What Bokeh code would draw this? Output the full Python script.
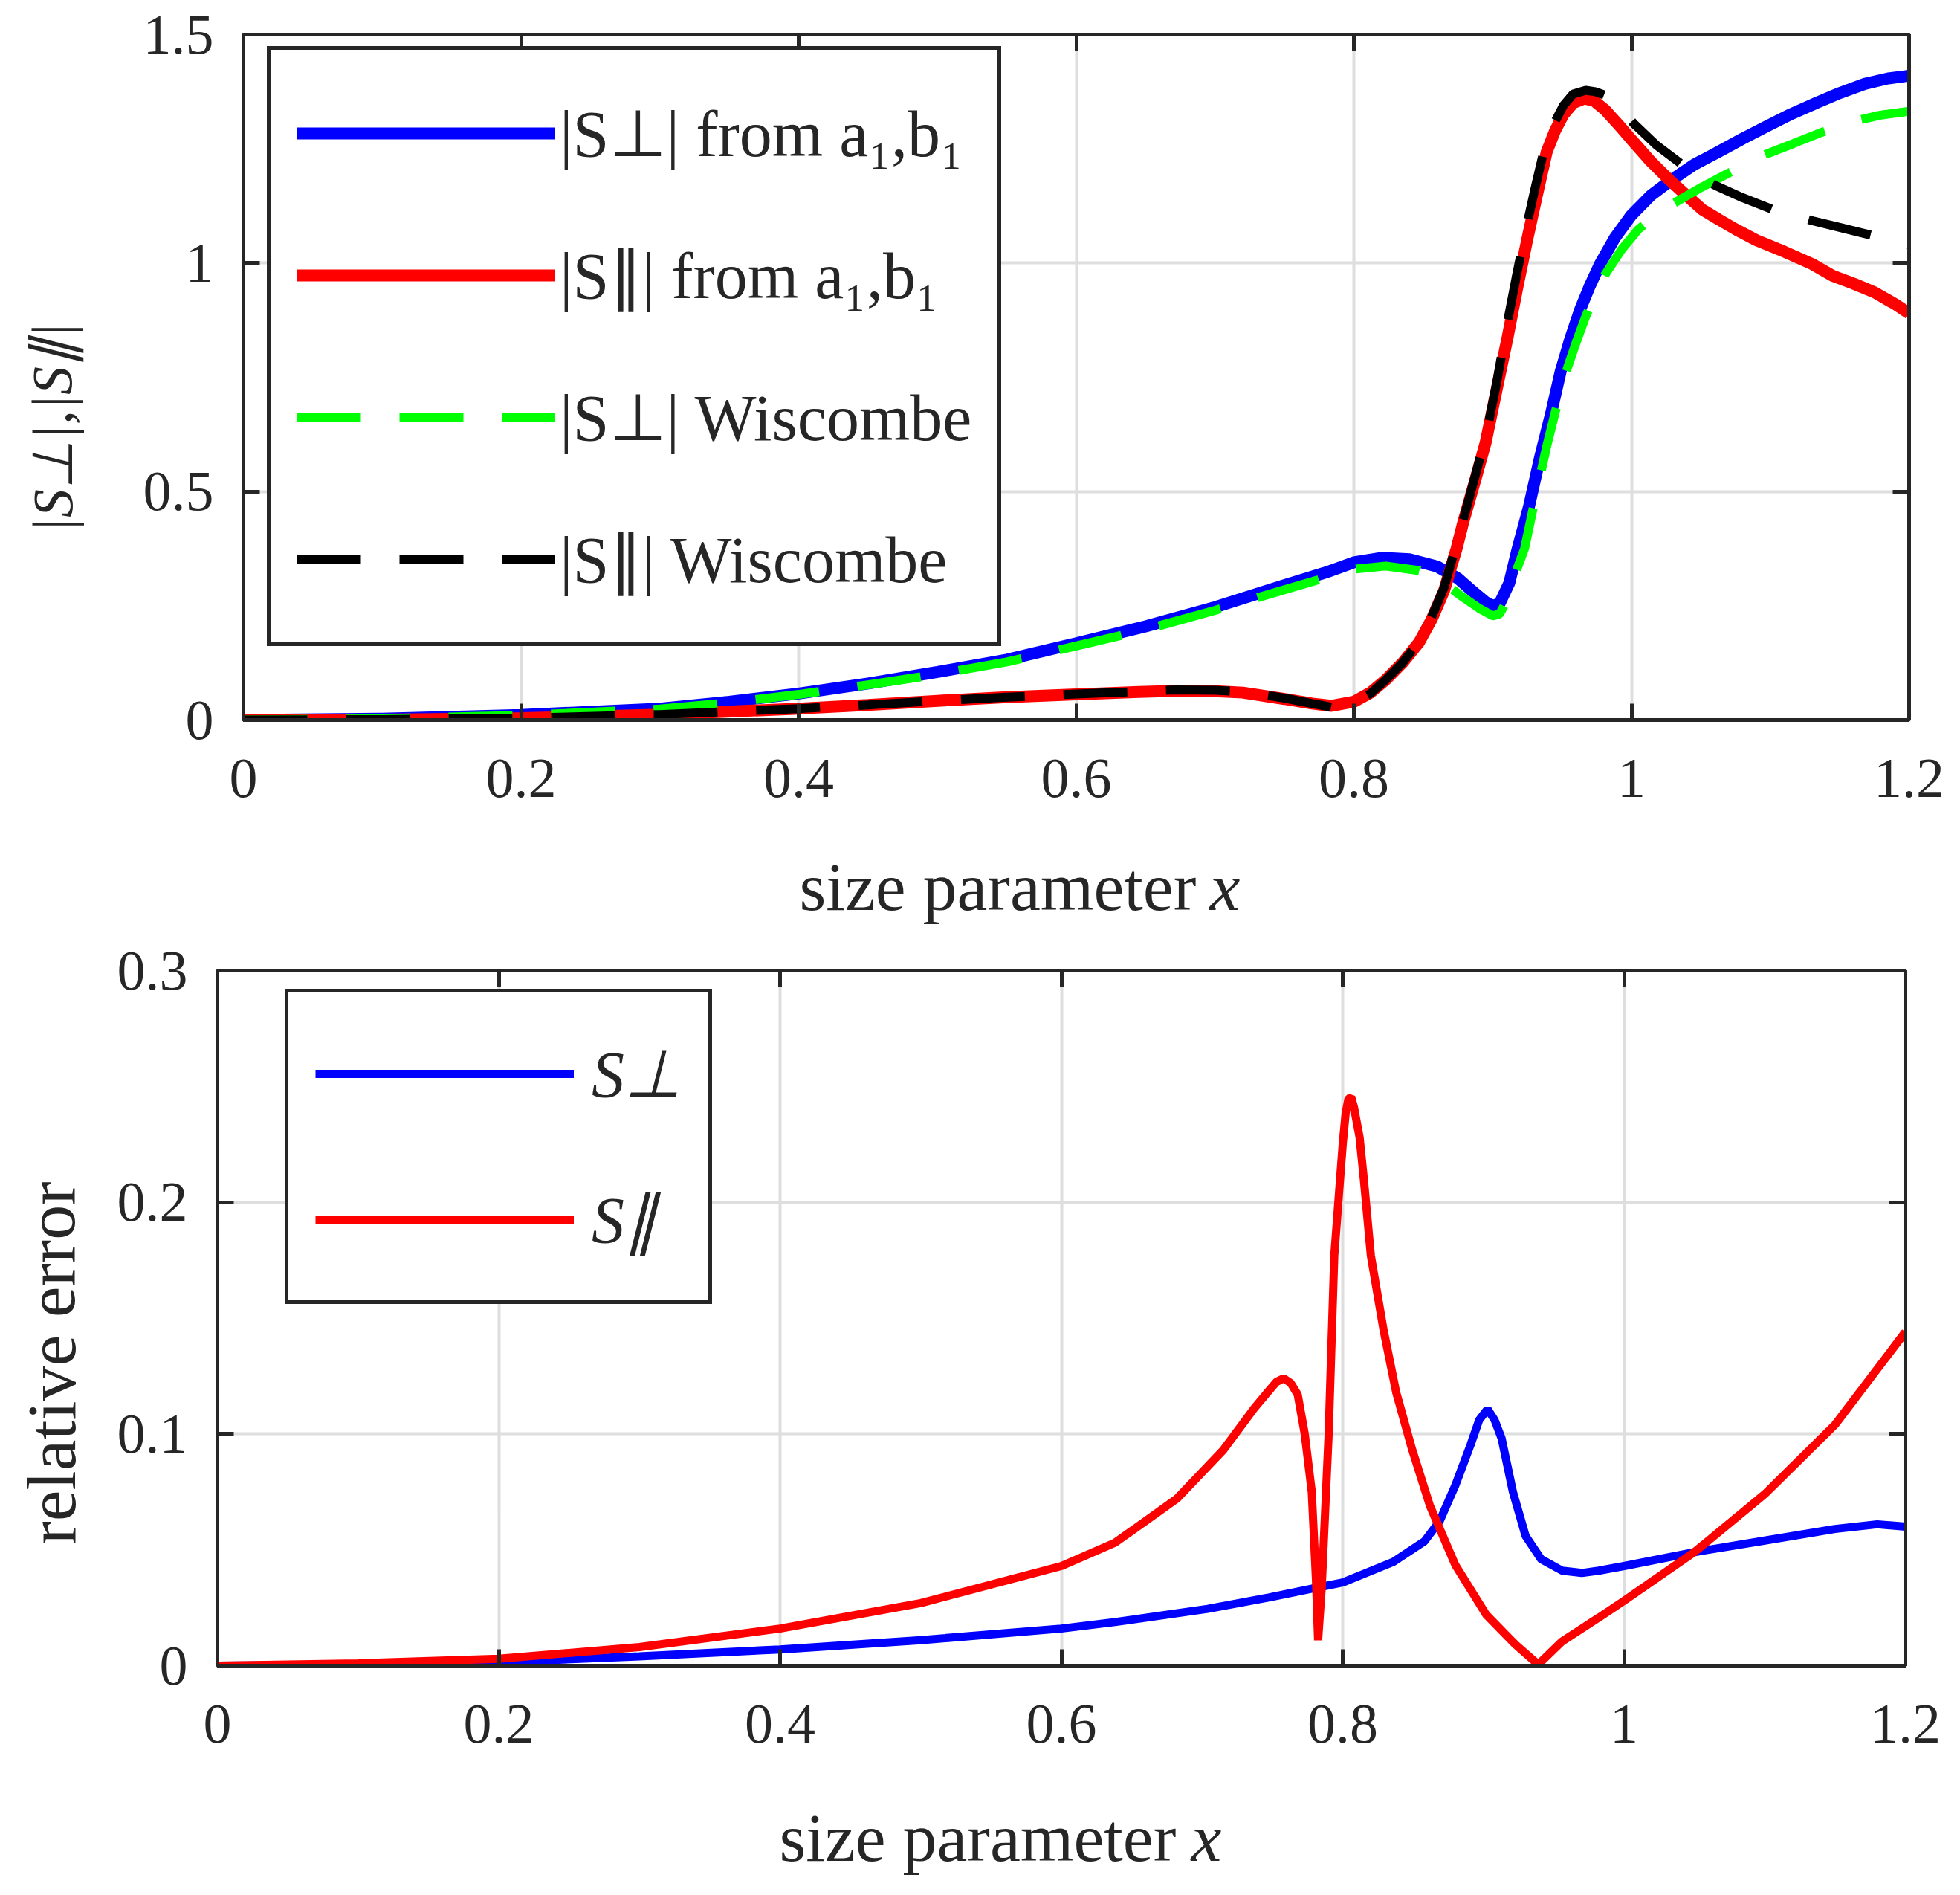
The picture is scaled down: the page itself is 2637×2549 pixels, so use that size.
from bokeh.plotting import figure
from bokeh.layouts import column, row
from bokeh.models import Range1d, FixedTicker, LinearAxis, Label
from bokeh.embed import file_html
from bokeh.resources import INLINE

# ---- top panel: |S| from a1,b1 vs Wiscombe ----
x_perp_ab = [0, 0.1, 0.2, 0.3, 0.35, 0.4, 0.45, 0.5, 0.55, 0.6, 0.65, 0.7, 0.75, 0.78, 0.8, 0.82,
             0.84, 0.86, 0.875, 0.885, 0.895, 0.9, 0.905, 0.912, 0.918, 0.926, 0.934, 0.942, 0.949,
             0.956, 0.963, 0.97, 0.977, 0.988, 1.0, 1.014, 1.028, 1.045, 1.063, 1.08, 1.098, 1.115,
             1.133, 1.15, 1.168, 1.185, 1.2]
y_perp_ab = [0, 0.003, 0.011, 0.025, 0.04, 0.058, 0.08, 0.105, 0.132, 0.168, 0.205, 0.247, 0.295,
             0.323, 0.345, 0.355, 0.352, 0.336, 0.31, 0.283, 0.258, 0.25, 0.255, 0.30, 0.375, 0.465,
             0.573, 0.67, 0.763, 0.835, 0.898, 0.95, 0.996, 1.055, 1.105, 1.148, 1.18, 1.215, 1.244,
             1.272, 1.30, 1.326, 1.35, 1.372, 1.392, 1.404, 1.41]

x_par_ab = [0, 0.1, 0.2, 0.3, 0.4, 0.45, 0.5, 0.55, 0.6, 0.65, 0.672, 0.7, 0.72, 0.75, 0.77, 0.784,
            0.8, 0.812, 0.823, 0.835, 0.847, 0.856, 0.865, 0.874, 0.879, 0.887, 0.895, 0.903, 0.911,
            0.918, 0.925, 0.932, 0.939, 0.945, 0.951, 0.958, 0.966, 0.973, 0.981, 0.99, 1.0, 1.014,
            1.028, 1.04, 1.051, 1.063, 1.075, 1.09, 1.11, 1.13, 1.145, 1.16, 1.175, 1.19, 1.2]
y_par_ab = [0, 0.001, 0.004, 0.012, 0.025, 0.033, 0.042, 0.05, 0.056, 0.062, 0.064, 0.063, 0.06,
            0.046, 0.036, 0.031, 0.04, 0.06, 0.088, 0.125, 0.17, 0.22, 0.283, 0.375, 0.435, 0.52,
            0.608, 0.725, 0.841, 0.95, 1.053, 1.15, 1.244, 1.29, 1.325, 1.35, 1.36, 1.355, 1.335,
            1.305, 1.27, 1.222, 1.18, 1.147, 1.117, 1.095, 1.074, 1.05, 1.025, 0.998, 0.972, 0.955,
            0.936, 0.91, 0.89]

x_perp_wis = [0, 0.1, 0.2, 0.3, 0.35, 0.4, 0.45, 0.5, 0.55, 0.6, 0.65, 0.7, 0.75, 0.78, 0.8, 0.823,
              0.847, 0.865, 0.877, 0.89, 0.9, 0.905, 0.91, 0.915, 0.923, 0.931, 0.939, 0.946, 0.953,
              0.96, 0.967, 0.974, 0.981, 0.993, 1.005, 1.018, 1.03, 1.05, 1.068, 1.082, 1.096, 1.117,
              1.137, 1.165, 1.18, 1.2]
y_perp_wis = [0, 0.003, 0.01, 0.024, 0.038, 0.056, 0.077, 0.1, 0.127, 0.162, 0.198, 0.24, 0.285,
              0.312, 0.33, 0.337, 0.327, 0.3, 0.272, 0.245, 0.228, 0.232, 0.26, 0.31, 0.375, 0.49,
              0.60, 0.685, 0.763, 0.825, 0.883, 0.93, 0.975, 1.03, 1.074, 1.105, 1.13, 1.165, 1.194,
              1.215, 1.237, 1.262, 1.286, 1.314, 1.324, 1.332]

x_par_wis = [0, 0.1, 0.2, 0.3, 0.4, 0.45, 0.5, 0.55, 0.6, 0.65, 0.672, 0.7, 0.72, 0.75, 0.77, 0.784,
             0.8, 0.812, 0.823, 0.835, 0.847, 0.856, 0.865, 0.873, 0.879, 0.887, 0.895, 0.903, 0.91,
             0.917, 0.924, 0.931, 0.938, 0.945, 0.951, 0.958, 0.967, 0.974, 0.981, 0.99, 1.002,
             1.018, 1.035, 1.048, 1.061, 1.08, 1.102, 1.131, 1.15, 1.174, 1.2]
y_par_wis = [0, 0.001, 0.004, 0.012, 0.025, 0.033, 0.042, 0.05, 0.057, 0.063, 0.066, 0.065, 0.062,
             0.048, 0.036, 0.028, 0.038, 0.058, 0.088, 0.125, 0.172, 0.225, 0.29, 0.375, 0.44, 0.53,
             0.62, 0.74, 0.86, 0.97, 1.075, 1.17, 1.26, 1.31, 1.345, 1.37, 1.378, 1.375, 1.367,
             1.345, 1.304, 1.258, 1.219, 1.19, 1.169, 1.143, 1.117, 1.092, 1.078, 1.06, 1.04]

# ---- bottom panel: relative error ----
x_err_perp = [0, 0.1, 0.2, 0.3, 0.4, 0.5, 0.6, 0.638, 0.704, 0.748, 0.8, 0.836, 0.858, 0.869, 0.88,
              0.891, 0.897, 0.903, 0.908, 0.913, 0.921, 0.93, 0.941, 0.956, 0.97, 0.982, 1.0, 1.05,
              1.1, 1.15, 1.18, 1.2]
y_err_perp = [0, 0.0003, 0.0015, 0.004, 0.007, 0.011, 0.016, 0.0188, 0.0245, 0.0295, 0.0359,
              0.0448, 0.0536, 0.0625, 0.0777, 0.0955, 0.106, 0.1107, 0.106, 0.098, 0.075, 0.056,
              0.046, 0.041, 0.040, 0.041, 0.043, 0.049, 0.054, 0.059, 0.061, 0.060]

x_err_par = [0, 0.1, 0.2, 0.3, 0.4, 0.5, 0.6, 0.638, 0.682, 0.715, 0.737, 0.748, 0.753, 0.758,
             0.763, 0.768, 0.773, 0.778, 0.781, 0.7825, 0.785, 0.79, 0.794, 0.8, 0.802, 0.804,
             0.806, 0.808, 0.812, 0.815, 0.82, 0.829, 0.838, 0.849, 0.862, 0.88, 0.902, 0.923,
             0.939, 0.956, 0.982, 1.0, 1.05, 1.1, 1.15, 1.2]
y_err_par = [0, 0.001, 0.003, 0.008, 0.016, 0.027, 0.043, 0.053, 0.072, 0.093, 0.111, 0.119,
             0.1225, 0.124, 0.122, 0.117, 0.10, 0.075, 0.037, 0.011, 0.033, 0.10, 0.177, 0.225,
             0.238, 0.2445, 0.2455, 0.241, 0.228, 0.21, 0.177, 0.145, 0.118, 0.094, 0.069, 0.0435,
             0.022, 0.009, 0.0005, 0.0105, 0.0207, 0.028, 0.049, 0.074, 0.104, 0.144]

x_ticks = [0, 0.2, 0.4, 0.6, 0.8, 1.0, 1.2]
x_tick_labels = ["0", "0.2", "0.4", "0.6", "0.8", "1", "1.2"]
y_ticks_top = [0, 0.5, 1.0, 1.5]
y_tick_labels_top = ["0", "0.5", "1", "1.5"]
y_ticks_bottom = [0, 0.1, 0.2, 0.3]
y_tick_labels_bottom = ["0", "0.1", "0.2", "0.3"]

FONT = "Liberation Serif"
DARK = "#262626"
WIDTH = 2637


def style_axes(p, y_ticks, y_tick_labels):
    """
    MATLAB like box: inward ticks on all four sides, light grid
    :param p: figure
    :param y_ticks: y tick positions
    :param y_tick_labels: y tick texts
    """
    p.add_layout(LinearAxis(), "above")
    p.add_layout(LinearAxis(), "right")
    for ax in p.xaxis:
        ax.ticker = FixedTicker(ticks=x_ticks)
        ax.major_label_overrides = dict(zip(x_ticks, x_tick_labels))
    for ax in p.yaxis:
        ax.ticker = FixedTicker(ticks=y_ticks)
        ax.major_label_overrides = dict(zip(y_ticks, y_tick_labels))
    for ax in p.xaxis + p.yaxis:
        ax.major_tick_in = 22
        ax.major_tick_out = 0
        ax.minor_tick_line_color = None
        ax.major_tick_line_width = 5
        ax.major_tick_line_color = DARK
        ax.axis_line_width = 5
        ax.axis_line_color = DARK
        ax.major_label_text_font = FONT
        ax.major_label_text_font_size = "76px"
        ax.major_label_text_color = DARK
    # box sides: ticks only, labels not painted
    for ax in (p.above[0], p.right[0]):
        ax.major_label_text_font_size = "2px"
        ax.major_label_text_color = None
        ax.major_label_standoff = 0
    p.below[0].major_label_standoff = 53
    p.left[0].major_label_standoff = 40
    p.xgrid.ticker = FixedTicker(ticks=x_ticks)
    p.ygrid.ticker = FixedTicker(ticks=y_ticks)
    p.grid.grid_line_color = "#dedede"
    p.grid.grid_line_width = 4
    p.outline_line_color = DARK
    p.outline_line_width = 5


def add_axis_titles(p, frame_w, frame_h, y_text, y_italic, y_size, y_centre, x_left, x_var,
                    x_drop):
    """
    axis titles put where the matlab export has them; offsets in px from the frame's
    bottom-left corner, turned into data units. Labels sit in side panels so they are not
    clipped to the frame.
    """
    sx = (p.x_range.end - p.x_range.start) / frame_w
    sy = (p.y_range.end - p.y_range.start) / frame_h
    x0, y0 = p.x_range.start, p.y_range.start
    p.add_layout(Label(x=x0 + y_centre[0] * sx, y=y0 + y_centre[1] * sy, text=y_text,
                       angle=1.5708, text_align="center", text_baseline="middle",
                       text_font=FONT, text_font_size=y_size, text_color=DARK,
                       text_font_style="italic" if y_italic else "normal"), "left")
    p.add_layout(Label(x=x0 + x_left * sx, y=y0 - x_drop * sy, text="size parameter",
                       text_align="left", text_baseline="middle", text_font=FONT,
                       text_font_size="92px", text_color=DARK), "below")
    p.add_layout(Label(x=x0 + x_var * sx, y=y0 - x_drop * sy, text="x", text_align="left",
                       text_baseline="middle", text_font=FONT, text_font_size="92px",
                       text_font_style="italic", text_color=DARK), "right")


def style_legend(p, location, padding, item_height, spacing, standoff):
    leg = p.legend[0]
    leg.location = location
    leg.margin = 0
    leg.padding = padding
    leg.spacing = spacing
    leg.glyph_width = 348
    leg.glyph_height = item_height
    leg.label_height = item_height
    leg.label_standoff = standoff
    leg.label_text_font = FONT
    leg.label_text_font_size = "88px"
    leg.label_text_color = DARK
    leg.border_line_color = DARK
    leg.border_line_width = 5
    leg.border_line_alpha = 1.0
    leg.background_fill_color = "white"
    leg.background_fill_alpha = 1.0


# top figure
p1 = figure(width=WIDTH, height=1260, x_range=Range1d(0, 1.2), y_range=Range1d(0, 1.5),
            output_backend="svg", toolbar_location=None,
            min_border_left=327, min_border_right=69, min_border_top=46, min_border_bottom=292)
p1.line(x_perp_ab, y_perp_ab, line_color="#0000ff", line_width=16, legend_label="|S⊥| from a₁,b₁")
p1.line(x_par_ab, y_par_ab, line_color="#ff0000", line_width=16, legend_label="|S∥| from a₁,b₁")
p1.line(x_perp_wis, y_perp_wis, line_color="#00ff00", line_width=12, line_dash="86 52",
        legend_label="|S⊥| Wiscombe")
p1.line(x_par_wis, y_par_wis, line_color="#000000", line_width=12, line_dash="86 52",
        legend_label="|S∥| Wiscombe")
style_axes(p1, y_ticks_top, y_tick_labels_top)
add_axis_titles(p1, 2241, 922, "|S⊥|,|S∥|", True, "76px", (-257, 393), 748, 1300, 224)
style_legend(p1, (32, 99), 35, 154, 37, 6)

# bottom figure
p2 = figure(width=WIDTH, height=1288, x_range=Range1d(0, 1.2), y_range=Range1d(0, 0.3),
            output_backend="svg", toolbar_location=None,
            min_border_left=292, min_border_right=74, min_border_top=45, min_border_bottom=308)
p2.line(x_err_perp, y_err_perp, line_color="#0000ff", line_width=11, legend_label="S⊥")
p2.line(x_err_par, y_err_par, line_color="#ff0000", line_width=11, legend_label="S∥")
style_axes(p2, y_ticks_bottom, y_tick_labels_bottom)
add_axis_titles(p2, 2271, 935, "relative error", False, "94px", (-224, 407), 756, 1310, 231)
style_legend(p2, (91, 486), 36, 146, 50, 24)
p2.legend[0].label_text_font_style = "italic"

layout = column(p1, row(p2))
open("out.html", "w").write(file_html(layout, INLINE))
